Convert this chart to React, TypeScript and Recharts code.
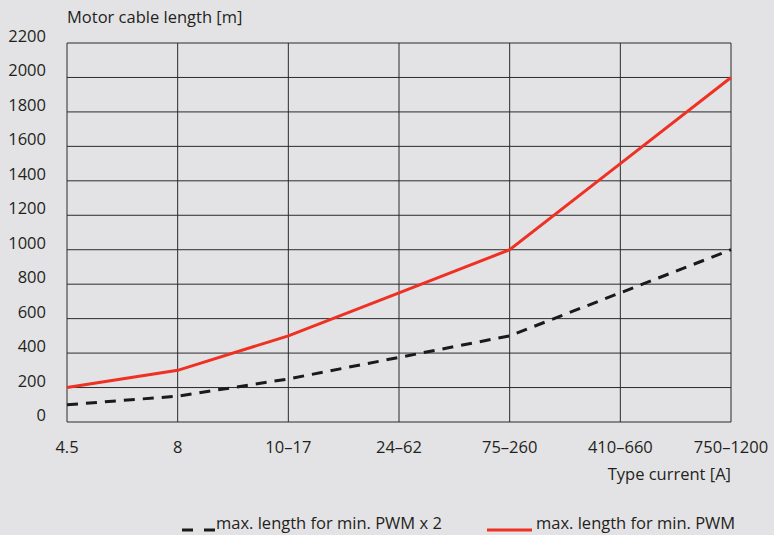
import { LineChart, Line, XAxis, YAxis, CartesianGrid, Label } from 'recharts'

const categories = ['4.5', '8', '10–17', '24–62', '75–260', '410–660', '750–1200']
const pwmX2 = [100, 150, 250, 375, 500, 750, 1000]
const pwm = [200, 300, 500, 750, 1000, 1500, 2000]
const yTicks = [0, 200, 400, 600, 800, 1000, 1200, 1400, 1600, 1800, 2000, 2200]

const data = categories.map((c, i) => ({ cat: c, x2: pwmX2[i], pwm: pwm[i] }))

const FONT = '"Open Sans", "Noto Sans", sans-serif'
const TEXT = '#231f20'
const FS = 16.5

function YTick({ x, y, payload }: any) {
  return (
    <text x={x} y={y - 1} textAnchor="end" fontSize={FS} fontFamily={FONT} fill={TEXT}>
      {payload.value}
    </text>
  )
}

function XTick({ x, y, payload }: any) {
  return (
    <text x={x} y={y + 12} textAnchor="middle" fontSize={FS} fontFamily={FONT} fill={TEXT}>
      {payload.value}
    </text>
  )
}

export default function App() {
  return (
    <div style={{ position: 'absolute', left: 0, top: 0, width: 774, height: 535, background: '#e3e3e5' }}>
      <LineChart
        width={774}
        height={535}
        data={data}
        margin={{ top: 43, right: 43, left: 0, bottom: 0 }}
      >
        <CartesianGrid stroke="#2b2b2b" strokeWidth={1} />
        <XAxis
          dataKey="cat"
          padding={{ left: 0, right: 0 }}
          axisLine={false}
          tickLine={false}
          tickSize={0}
          tickMargin={19}
          height={113}
          interval={0}
          tick={<XTick />}
        >
          <Label
            content={({ viewBox }: any) => (
              <text
                x={viewBox.x + viewBox.width}
                y={viewBox.y + 58}
                textAnchor="end"
                fontSize={FS}
                fontFamily={FONT}
                fill={TEXT}
              >
                Type current [A]
              </text>
            )}
          />
        </XAxis>
        <YAxis
          width={67}
          domain={[0, 2200]}
          ticks={yTicks}
          interval={0}
          axisLine={false}
          tickLine={false}
          tickSize={0}
          tickMargin={21}
          tick={<YTick />}
        >
          <Label
            content={({ viewBox }: any) => (
              <text
                x={viewBox.x + viewBox.width}
                y={23}
                textAnchor="start"
                fontSize={FS}
                fontFamily={FONT}
                fill={TEXT}
              >
                Motor cable length [m]
              </text>
            )}
          />
        </YAxis>
        <Line
          type="linear"
          dataKey="x2"
          stroke="#1a1a1a"
          strokeWidth={3}
          strokeDasharray="11 8"
          dot={false}
          activeDot={false}
          isAnimationActive={false}
        />
        <Line
          type="linear"
          dataKey="pwm"
          stroke="#ef3124"
          strokeWidth={3}
          dot={false}
          activeDot={false}
          isAnimationActive={false}
        />
      </LineChart>
      <svg
        width={774}
        height={40}
        style={{ position: 'absolute', left: 0, top: 495 }}
      >
        <line x1={182} x2={215} y1={35} y2={35} stroke="#1a1a1a" strokeWidth={3} strokeDasharray="11 11" />
        <text x={216} y={34} fontSize={FS} fontFamily={FONT} fill={TEXT}>
          max. length for min. PWM x 2
        </text>
        <line x1={487} x2={532} y1={35} y2={35} stroke="#ef3124" strokeWidth={3} />
        <text x={536} y={34} fontSize={FS} fontFamily={FONT} fill={TEXT}>
          max. length for min. PWM
        </text>
      </svg>
    </div>
  )
}
